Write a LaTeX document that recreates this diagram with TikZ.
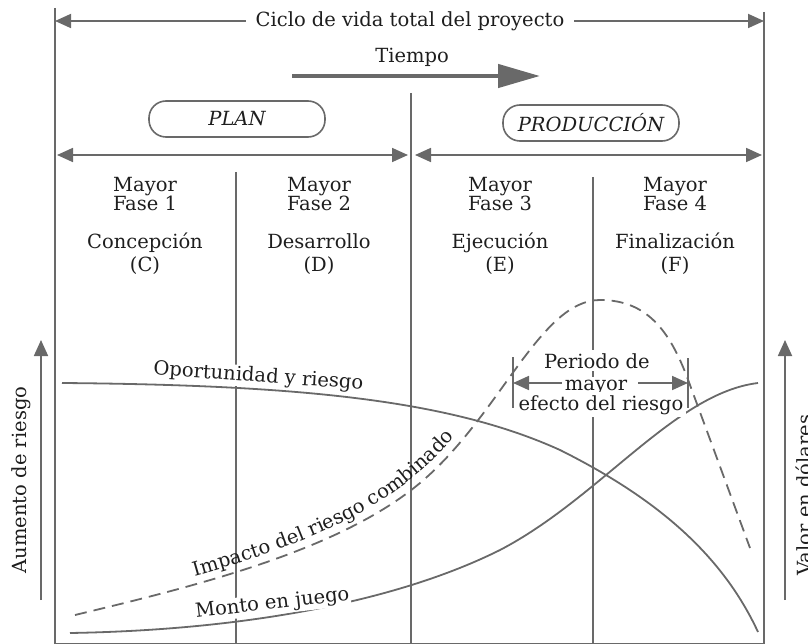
\documentclass[tikz,border=0pt]{standalone}
\usepackage{fontspec}
\setmainfont{DejaVu Serif}
\usetikzlibrary{arrows.meta,decorations.text}
\definecolor{linegray}{RGB}{105,105,105}
\definecolor{ink}{RGB}{30,30,30}
\tikzset{
  ln/.style={linegray, line width=1.8pt},
  arr/.style={ln, arrows = -{Triangle[length=16pt,width=14pt]}},
  darr/.style={ln, arrows = {Triangle[length=16pt,width=14pt]}-{Triangle[length=16pt,width=14pt]}},
  txt/.style={ink, font=\fontsize{19.5}{23}\selectfont, inner sep=2pt},
  lbl/.style={txt, fill=white},
  phasebox/.style={txt, draw=linegray, line width=1.6pt, rounded corners=17pt,
    minimum width=176pt, minimum height=36pt, font=\fontsize{19.5}{23}\selectfont\itshape}
}
\begin{document}
\begin{tikzpicture}[x=1pt,y=-1pt]
\useasboundingbox (0,0) rectangle (808,644);
% frame and phase lines
\draw [ln] (55,8) -- (55,644);
\draw [ln] (764,12) -- (764,644);
\draw [ln] (411,93) -- (411,644);
\draw [ln, line width=1.3pt] (236,172) -- (236,644);
\draw [ln, line width=1.3pt] (593,177) -- (593,644);
\draw [ln, line width=1pt] (55,643) -- (764,643);

% total life cycle
\node[lbl, anchor=base, inner xsep=10pt] (ciclo) at (410,27) {Ciclo de vida total del proyecto};
\coordinate (cicloL) at (55,21);
\coordinate (cicloR) at (764,21);
\draw [arr] (ciclo.west |- cicloL) -- (cicloL);
\draw [arr] (ciclo.east |- cicloR) -- (cicloR);

% time arrow
\node[txt, anchor=base] (tiempo) at (412,63) {Tiempo};
\coordinate (tA) at (292,76);
\coordinate (tB) at (540,76);
\draw [linegray, line width=4.5pt, arrows = -{Triangle[length=42pt,width=23pt]}] (tA) -- (tB);

% plan and production
\node[phasebox] (plan) at (237,119) {PLAN};
\node[phasebox] (prod) at (591,123) {PRODUCCIÓN};
\coordinate (planL) at (57,155);
\coordinate (planR) at (408,155);
\coordinate (prodL) at (415,155);
\coordinate (prodR) at (762,155);
\draw [darr] (planL) -- (planR);
\draw [darr] (prodL) -- (prodR);

% the four phases
\foreach \x/\n/\nm/\l in {145/1/Concepción/C, 319/2/Desarrollo/D, 500/3/Ejecución/E, 675/4/Finalización/F}{
  \node[txt, anchor=base] (mayor\n) at (\x,192) {Mayor};
  \node[txt, anchor=base] (fase\n) at (\x,211) {Fase \n};
  \node[txt, anchor=base] (nom\n) at (\x,249) {\nm};
  \node[txt, anchor=base] (let\n) at (\x,272) {(\l)};
}

% curves
\draw [ln] (62,383) .. controls (300,385) and (450,400) .. (560,450)
  .. controls (650,495) and (720,550) .. (758,632);
\draw [ln] (70,633) .. controls (250,630) and (400,600) .. (500,550)
  .. controls (600,498) and (675,393) .. (758,383);
\draw [ln, dash pattern=on 12pt off 7pt] (75,615) .. controls (200,585) and (340,550) .. (420,483)
  .. controls (500,416) and (540,300) .. (600,300)
  .. controls (650,300) and (672,335) .. (690,385) -- (750,548);

% curve labels
\node[lbl, rotate=-4, anchor=base, inner sep=1pt] (oport) at (258,382) {Oportunidad y riesgo};
\node[lbl, rotate=6.5, anchor=base, inner sep=1pt] (monto) at (273,609) {Monto en juego};
\path [decorate, decoration={text along path, text align=center,
  text={|\color{ink}\fontsize{19.5}{23}\selectfont|Impacto del riesgo combinado}}]
  (188,578) .. controls (290,549) and (390,516) .. (459,432);

% period of highest risk
\node[lbl, anchor=base, inner sep=3pt] (per1) at (597,368) {Periodo de};
\node[lbl, anchor=base, inner sep=3pt] (per2) at (596,390) {mayor};
\node[lbl, anchor=base, inner sep=3pt] (per3) at (601,410) {efecto del riesgo};
\draw [ln] (513,357) -- (513,408);
\draw [ln] (688,358) -- (688,408);
\coordinate (pL) at (513,383);
\coordinate (pR) at (688,383);
\draw [arr] (per2.west |- pL) -- (pL);
\draw [arr] ([xshift=8pt]per2.east |- pR) -- (pR);

% side axes
\coordinate (riskB) at (41,600);
\coordinate (riskT) at (41,340);
\draw [arr] (riskB) -- (riskT);
\node[txt, rotate=90, anchor=base] (aumento) at (26,480) {Aumento de riesgo};
\coordinate (valB) at (785,600);
\coordinate (valT) at (785,340);
\draw [arr] (valB) -- (valT);
\node[txt, rotate=90, anchor=base] (valor) at (811,495) {Valor en dólares};
\end{tikzpicture}
\end{document}
